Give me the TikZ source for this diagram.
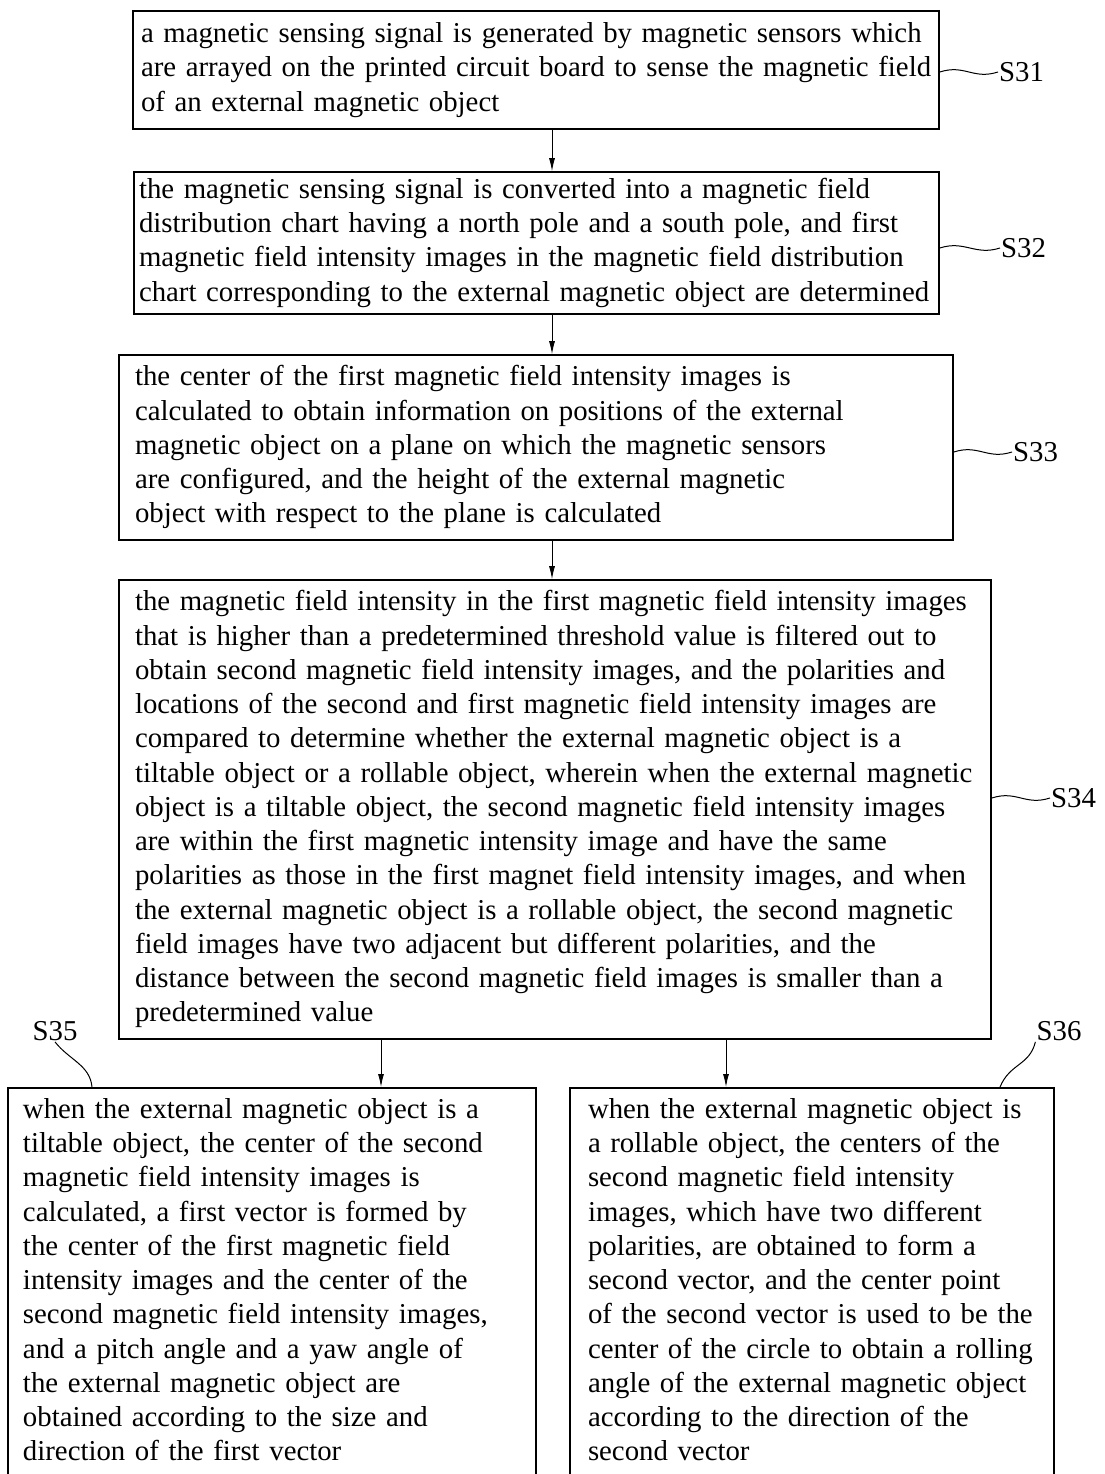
\documentclass[tikz,border=0pt]{standalone}
\usepackage{fontspec}
\setmainfont{Liberation Serif}
\usetikzlibrary{arrows.meta}
\newcommand{\boxlines}[1]{\begin{tabular}{@{}l@{}}#1\end{tabular}}

\begin{document}
\begin{tikzpicture}[x=1pt,y=-1pt,
  stepbox/.style={draw, line width=1.6pt, align=left, inner ysep=0pt,
    font=\fontsize{28.8}{34.25}\selectfont},
  steplabel/.style={inner sep=1pt, font=\fontsize{28.8}{34.25}\selectfont},
  leader/.style={line width=1pt},
  flow/.style={draw, line width=0.9pt, -{Latex[length=13pt,width=6pt]}}]
\useasboundingbox (0,0) rectangle (1104,1474);
\clip (0,0) rectangle (1104,1474);
\node[stepbox, inner xsep=8pt, text width=790pt, minimum height=118pt] (s31) at (536,70) {\boxlines{a magnetic sensing signal is generated by magnetic sensors which\\are arrayed on the printed circuit board to sense the magnetic field\\of an external magnetic object}};
\node[stepbox, inner xsep=5pt, text width=795pt, minimum height=142pt] (s32) at (536.5,243) {\boxlines{the magnetic sensing signal is converted into a magnetic field\\distribution chart having a north pole and a south pole, and first\\magnetic field intensity images in the magnetic field distribution\\chart corresponding to the external magnetic object are determined}};
\node[stepbox, inner xsep=16pt, text width=802pt, minimum height=185pt] (s33) at (536,447.5) {\boxlines{the center of the first magnetic field intensity images is\\calculated to obtain information on positions of the external\\magnetic object on a plane on which the magnetic sensors\\are configured, and the height of the external magnetic\\object with respect to the plane is calculated}};
\node[stepbox, inner xsep=16pt, text width=840pt, minimum height=459pt] (s34) at (555,809.5) {\boxlines{the magnetic field intensity in the first magnetic field intensity images\\that is higher than a predetermined threshold value is filtered out to\\obtain second magnetic field intensity images, and the polarities and\\locations of the second and first magnetic field intensity images are\\compared to determine whether the external magnetic object is a\\tiltable object or a rollable object, wherein when the external magnetic\\object is a tiltable object, the second magnetic field intensity images\\are within the first magnetic intensity image and have the same\\polarities as those in the first magnet field intensity images, and when\\the external magnetic object is a rollable object, the second magnetic\\field images have two adjacent but different polarities, and the\\distance between the second magnetic field images is smaller than a\\predetermined value}};
\node[stepbox, anchor=north, inner xsep=15pt, text width=498pt, minimum height=390pt] (s35) at (272,1087) {\boxlines{when the external magnetic object is a\\tiltable object, the center of the second\\magnetic field intensity images is\\calculated, a first vector is formed by\\the center of the first magnetic field\\intensity images and the center of the\\second magnetic field intensity images,\\and a pitch angle and a yaw angle of\\the external magnetic object are\\obtained according to the size and\\direction of the first vector}};
\node[stepbox, anchor=north, inner xsep=18pt, text width=448pt, minimum height=390pt] (s36) at (812,1087) {\boxlines{when the external magnetic object is\\a rollable object, the centers of the\\second magnetic field intensity\\images, which have two different\\polarities, are obtained to form a\\second vector, and the center point\\of the second vector is used to be the\\center of the circle to obtain a rolling\\angle of the external magnetic object\\according to the direction of the\\second vector}};
\node[steplabel, anchor=west] (l31) at (998,72) {S31};
\node[steplabel, anchor=west] (l32) at (1000,248) {S32};
\node[steplabel, anchor=west] (l33) at (1012,452) {S33};
\node[steplabel, anchor=west] (l34) at (1050,798) {S34};
\node[steplabel] (l35) at (55,1031) {S35};
\node[steplabel] (l36) at (1059,1031) {S36};
\coordinate (mid) at (552,0);
\coordinate (left) at (381,0);
\coordinate (right) at (726,0);
\coordinate (t35) at (92,0);
\coordinate (t36) at (1000,0);
\path[flow] (s31.south -| mid) -- (s32.north -| mid);
\path[flow] (s32.south -| mid) -- (s33.north -| mid);
\path[flow] (s33.south -| mid) -- (s34.north -| mid);
\path[flow] (s34.south -| left) -- (s35.north -| left);
\path[flow] (s34.south -| right) -- (s36.north -| right);
\draw[leader] (s31.east |- l31.west) .. controls +(25pt,8pt) and +(-25pt,-8pt) .. (l31.west);
\draw[leader] (s32.east |- l32.west) .. controls +(25pt,8pt) and +(-25pt,-8pt) .. (l32.west);
\draw[leader] (s33.east |- l33.west) .. controls +(25pt,8pt) and +(-25pt,-8pt) .. (l33.west);
\draw[leader] (s34.east |- l34.west) .. controls +(25pt,8pt) and +(-25pt,-8pt) .. (l34.west);
\draw[leader] (l35.south) .. controls +(14pt,-18pt) and +(-2pt,22pt) .. (s35.north -| t35);
\draw[leader] (l36.south west) .. controls +(-6pt,-24pt) and +(10pt,24pt) .. (s36.north -| t36);
\end{tikzpicture}
\end{document}
